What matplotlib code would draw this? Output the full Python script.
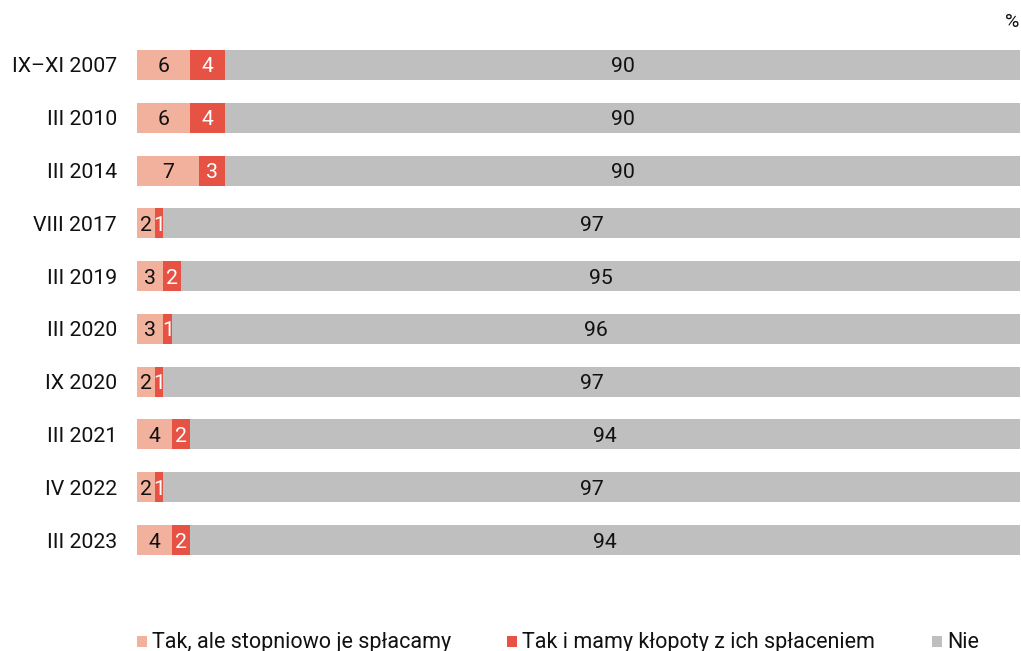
import matplotlib
matplotlib.use("Agg")
import matplotlib.pyplot as plt
from matplotlib.patches import Rectangle

plt.rcParams['font.family'] = ['Roboto', 'DejaVu Sans']

categories = ["IX–XI 2007", "III 2010", "III 2014", "VIII 2017", "III 2019",
              "III 2020", "IX 2020", "III 2021", "IV 2022", "III 2023"]
tak_splacamy = [6, 6, 7, 2, 3, 3, 2, 4, 2, 4]
tak_klopoty = [4, 4, 3, 1, 2, 1, 1, 2, 1, 2]
nie = [90, 90, 90, 97, 95, 96, 97, 94, 97, 94]
series_names = ["Tak, ale stopniowo je spłacamy", "Tak i mamy kłopoty z ich spłaceniem", "Nie"]
colors = ["#F2B19D", "#E65244", "#BFBFBF"]
text_colors = ["#111111", "white", "#111111"]

W, H = 1021, 651
fig = plt.figure(figsize=(W / 100, H / 100), dpi=100)
ax = fig.add_axes([137 / W, (H - 566.4) / H, (1020 - 137) / W, 527.8 / H])

fs = 15.3
y = list(range(len(categories)))
left = [0] * len(categories)
for vals, col, tcol in zip([tak_splacamy, tak_klopoty, nie], colors, text_colors):
    bars = ax.barh(y, vals, left=left, height=0.57, color=col, edgecolor='none')
    for b, v in zip(bars, vals):
        ax.text(b.get_x() + b.get_width() / 2, b.get_y() + b.get_height() / 2, str(v),
                ha='center', va='center_baseline', color=tcol, fontsize=fs)
    left = [l + v for l, v in zip(left, vals)]

ax.set_xlim(0, 100)
ax.set_ylim(len(categories) - 0.5, -0.5)
ax.set_yticks(y)
ax.set_yticklabels(categories, fontsize=fs, color="#111111")
ax.tick_params(axis='y', length=0, pad=14.4)
ax.set_xticks([])
for s in ax.spines.values():
    s.set_visible(False)

fig.text(1012 / W, 1 - 22 / H, "%", ha='center', va='center', fontsize=14, color="#111111")

# legend
leg_x = [137, 507, 932]
for lx, name, col in zip(leg_x, series_names, colors):
    fig.patches.append(Rectangle((lx / W, 1 - 647 / H), 10 / W, 11 / H, transform=fig.transFigure,
                                 facecolor=col, edgecolor='none'))
    fig.text((lx + 15) / W, 1 - 640 / H, name, ha='left', va='center_baseline', fontsize=15.5, color="#111111")

fig.savefig("out.png", dpi=100)
